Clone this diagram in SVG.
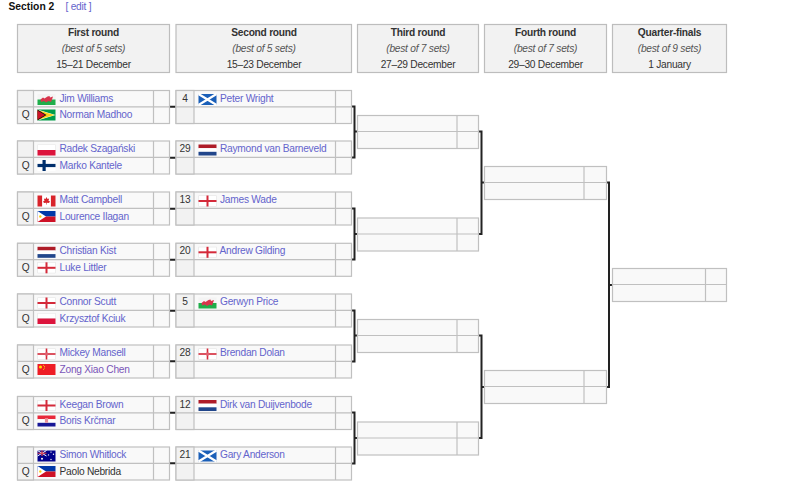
<svg xmlns="http://www.w3.org/2000/svg" width="800" height="489" viewBox="0 0 800 489">
<style>
text{font-family:"Liberation Sans",Arial,sans-serif;font-size:10.2px;letter-spacing:-.25px;fill:#333}
.h{text-anchor:middle}
.b{font-weight:bold}
.i{font-style:italic;fill:#555}
.c{text-anchor:middle}
.l{fill:#6464cc}
.v{fill:#7a55b8}
.box{fill:#f2f2f2;stroke:#bdbdbd;stroke-width:1.2}
.name{fill:#f9f9f9;stroke:#c0c0c0;stroke-width:1.2}
.seed{fill:#f2f2f2;stroke:#c0c0c0;stroke-width:1.2}
.sep{stroke:#c0c0c0;stroke-width:1.2;fill:none}
.con{fill:none;stroke:#222;stroke-width:2}
</style>
<defs>
<g id="f-wales"><rect width="18" height="5.5" fill="#f4f4f4"/><rect y="5.5" width="18" height="5.5" fill="#1fae4a"/><path d="M3 5.5L5.5 3.5L7 4.5L10 2.5L12 2L12.5 3.5L15.5 2.5L14.5 5.5L13.5 8L11 7L8.5 8.5L6.5 7L3.5 8Z" fill="#d8354c"/></g>
<g id="f-guyana"><rect width="18" height="11" fill="#009e49"/><path d="M0 0L18 5.5L0 11Z" fill="#fff"/><path d="M0 .6L17 5.5L0 10.4Z" fill="#fcd116"/><path d="M0 0L9 5.5L0 11Z" fill="#111"/><path d="M0 1L7.6 5.5L0 10Z" fill="#ce1126"/></g>
<g id="f-poland"><rect x=".25" y=".25" width="17.5" height="5.5" fill="#fff" stroke="#e4e4e4" stroke-width=".5"/><rect y="5.5" width="18" height="5.5" fill="#dc143c"/></g>
<g id="f-finland"><rect width="18" height="11" fill="#fff"/><rect x="5" width="3.2" height="11" fill="#002f6c"/><rect y="3.9" width="18" height="3.2" fill="#002f6c"/></g>
<g id="f-canada"><rect width="18" height="11" fill="#fff"/><rect width="4.6" height="11" fill="#d8232a"/><rect x="13.4" width="4.6" height="11" fill="#d8232a"/><path d="M9 1.5L10 3.4L11.6 3L11 5.6L12.4 5.4L11.6 7.4L9.3 7.2V9H8.7V7.2L6.4 7.4L5.6 5.4L7 5.6L6.4 3L8 3.4Z" fill="#d8232a"/></g>
<g id="f-ph"><rect width="18" height="5.5" fill="#0038a8"/><rect y="5.5" width="18" height="5.5" fill="#ce1126"/><path d="M0 0L8.5 5.5L0 11Z" fill="#fff"/><circle cx="2.8" cy="5.5" r="1.2" fill="#fcd116"/></g>
<g id="f-nl"><rect width="18" height="3.7" fill="#ae1c28"/><rect y="3.7" width="18" height="3.6" fill="#fff"/><rect y="7.3" width="18" height="3.7" fill="#21468b"/></g>
<g id="f-en"><rect x=".25" y=".25" width="17.5" height="10.5" fill="#fff" stroke="#e0e0e0" stroke-width=".5"/><rect x="8" width="2" height="11" fill="#d42a3a"/><rect y="4.5" width="18" height="2" fill="#d42a3a"/></g>
<g id="f-sc"><rect width="18" height="11" fill="#1a5fb8"/><path d="M0 0L18 11M18 0L0 11" stroke="#fff" stroke-width="2.2"/></g>
<g id="f-ni"><rect x=".25" y=".25" width="17.5" height="10.5" fill="#fff" stroke="#e0e0e0" stroke-width=".5"/><rect x="8.2" width="1.6" height="11" fill="#d42a3a"/><rect y="4.7" width="18" height="1.6" fill="#d42a3a"/><circle cx="9" cy="5.5" r="1.8" fill="#e06070"/></g>
<g id="f-cn"><rect width="18" height="11" fill="#ee1c25"/><circle cx="3" cy="3" r="1.5" fill="#ffde00"/><circle cx="6" cy="1.2" r=".5" fill="#ffde00"/><circle cx="7" cy="2.5" r=".5" fill="#ffde00"/><circle cx="7" cy="4" r=".5" fill="#ffde00"/><circle cx="6" cy="5.2" r=".5" fill="#ffde00"/></g>
<g id="f-hr"><rect width="18" height="3.7" fill="#e8283a"/><rect y="3.7" width="18" height="3.6" fill="#fff"/><rect y="7.3" width="18" height="3.7" fill="#171796"/><rect x="7.4" y="2.6" width="3.2" height="4.6" fill="#e89098"/></g>
<g id="f-au"><rect width="18" height="11" fill="#00008b"/><path d="M0 0L9 5.5M9 0L0 5.5" stroke="#fff" stroke-width="1"/><path d="M4.5 0V5.5M0 2.75H9" stroke="#e0404a" stroke-width="1.2"/><circle cx="4.5" cy="8.3" r="1" fill="#fff"/><circle cx="13.5" cy="1.6" r=".7" fill="#fff"/><circle cx="11" cy="4.4" r=".7" fill="#fff"/><circle cx="16" cy="3.8" r=".7" fill="#fff"/><circle cx="13.5" cy="9" r=".7" fill="#fff"/></g>
<g id="r1"><rect class="name" x="17.5" y="0" width="152" height="33"/><rect class="seed" x="17.5" y="0" width="16" height="33"/><path class="sep" d="M17.5 16.3H169.5M153.5 0V33"/></g>
<g id="r2"><rect class="name" x="176" y="0" width="175.5" height="33"/><rect class="seed" x="176" y="0" width="18" height="33"/><path class="sep" d="M176 16.3H351.5M335.5 0V33"/></g>
<g id="r3"><rect class="name" x="357.5" y="0" width="121" height="33"/><path class="sep" d="M357.5 16H478.5M457 0V33"/></g>
<g id="r4"><rect class="name" x="484.5" y="0" width="122" height="33"/><path class="sep" d="M484.5 16H606.5M584 0V33"/></g>
<g id="r5"><rect class="name" x="612.5" y="0" width="114" height="33"/><path class="sep" d="M612.5 16H726.5M705.5 0V33"/></g>
</defs>

<g id="title"><text x="8.5" y="9.5" class="b" style="font-size:10.3px;letter-spacing:0;fill:#111">Section 2</text><text x="65.5" y="9.5" class="l">[ edit ]</text></g>

<g id="headers">
<g id="h1"><rect class="box" x="17.5" y="24.5" width="152" height="48"/><text class="h b" x="93.5" y="36">First round</text><text class="h i" x="93.5" y="52">(best of 5 sets)</text><text class="h" x="93.5" y="68">15–21 December</text></g>
<g id="h2"><rect class="box" x="176" y="24.5" width="175.5" height="48"/><text class="h b" x="264" y="36">Second round</text><text class="h i" x="264" y="52">(best of 5 sets)</text><text class="h" x="264" y="68">15–23 December</text></g>
<g id="h3"><rect class="box" x="357.5" y="24.5" width="121" height="48"/><text class="h b" x="418" y="36">Third round</text><text class="h i" x="418" y="52">(best of 7 sets)</text><text class="h" x="418" y="68">27–29 December</text></g>
<g id="h4"><rect class="box" x="484.5" y="24.5" width="122" height="48"/><text class="h b" x="545.5" y="36">Fourth round</text><text class="h i" x="545.5" y="52">(best of 7 sets)</text><text class="h" x="545.5" y="68">29–30 December</text></g>
<g id="h5"><rect class="box" x="612.5" y="24.5" width="114" height="48"/><text class="h b" x="669.5" y="36">Quarter-finals</text><text class="h i" x="669.5" y="52">(best of 9 sets)</text><text class="h" x="669.5" y="68">1 January</text></g>
</g>

<g id="connectors">
<path class="con" d="M170 106.8H176M170 157.8H176M170 208.8H176M170 259.8H176M170 310.8H176M170 361.3H176M170 412.8H176M170 463.3H176"/>
<path class="con" d="M352 106.5H354.5V157.5H352M354.5 131.5H357.5"/>
<path class="con" d="M352 208.5H354.5V259.5H352M354.5 234H357.5"/>
<path class="con" d="M352 310.5H354.5V361.5H352M354.5 335.5H357.5"/>
<path class="con" d="M352 412.5H354.5V463.5H352M354.5 438H357.5"/>
<path class="con" d="M479 131.5H481.5V234H479M481.5 182.5H484.5"/>
<path class="con" d="M479 335.5H481.5V438H479M481.5 387H484.5"/>
<path class="con" d="M607 182.5H609V387H607M609 285H612.5"/>
</g>

<g id="m1-1" transform="translate(0,90.5)"><use href="#r1"/><use href="#f-wales" x="37.5" y="3.5"/><text x="59.5" y="11" class="l">Jim Williams</text><text class="c" x="25.5" y="27.5">Q</text><use href="#f-guyana" x="37.5" y="19"/><text x="59.5" y="27.5" class="l">Norman Madhoo</text></g>
<g id="m1-2" transform="translate(0,141)"><use href="#r1"/><use href="#f-poland" x="37.5" y="3.5"/><text x="59.5" y="11" class="l">Radek Szagański</text><text class="c" x="25.5" y="27.5">Q</text><use href="#f-finland" x="37.5" y="19"/><text x="59.5" y="27.5" class="l">Marko Kantele</text></g>
<g id="m1-3" transform="translate(0,192)"><use href="#r1"/><use href="#f-canada" x="37.5" y="3.5"/><text x="59.5" y="11" class="l">Matt Campbell</text><text class="c" x="25.5" y="27.5">Q</text><use href="#f-ph" x="37.5" y="19"/><text x="59.5" y="27.5" class="l">Lourence Ilagan</text></g>
<g id="m1-4" transform="translate(0,243.3)"><use href="#r1"/><use href="#f-nl" x="37.5" y="3.5"/><text x="59.5" y="11" class="l">Christian Kist</text><text class="c" x="25.5" y="27.5">Q</text><use href="#f-en" x="37.5" y="19"/><text x="59.5" y="27.5" class="l">Luke Littler</text></g>
<g id="m1-5" transform="translate(0,294)"><use href="#r1"/><use href="#f-en" x="37.5" y="3.5"/><text x="59.5" y="11" class="l">Connor Scutt</text><text class="c" x="25.5" y="27.5">Q</text><use href="#f-poland" x="37.5" y="19"/><text x="59.5" y="27.5" class="l">Krzysztof Kciuk</text></g>
<g id="m1-6" transform="translate(0,345)"><use href="#r1"/><use href="#f-ni" x="37.5" y="3.5"/><text x="59.5" y="11" class="l">Mickey Mansell</text><text class="c" x="25.5" y="27.5">Q</text><use href="#f-cn" x="37.5" y="19"/><text x="59.5" y="27.5" class="v">Zong Xiao Chen</text></g>
<g id="m1-7" transform="translate(0,396.5)"><use href="#r1"/><use href="#f-en" x="37.5" y="3.5"/><text x="59.5" y="11" class="l">Keegan Brown</text><text class="c" x="25.5" y="27.5">Q</text><use href="#f-hr" x="37.5" y="19"/><text x="59.5" y="27.5" class="l">Boris Krčmar</text></g>
<g id="m1-8" transform="translate(0,447)"><use href="#r1"/><use href="#f-au" x="37.5" y="3.5"/><text x="59.5" y="11" class="l">Simon Whitlock</text><text class="c" x="25.5" y="27.5">Q</text><use href="#f-ph" x="37.5" y="19"/><text x="59.5" y="27.5">Paolo Nebrida</text></g>

<g id="m2-1" transform="translate(0,90.5)"><use href="#r2"/><text class="c" x="185" y="11">4</text><use href="#f-sc" x="198.5" y="3.5"/><text x="220" y="11" class="l">Peter Wright</text></g>
<g id="m2-2" transform="translate(0,141)"><use href="#r2"/><text class="c" x="185" y="11">29</text><use href="#f-nl" x="198.5" y="3.5"/><text x="220" y="11" class="l">Raymond van Barneveld</text></g>
<g id="m2-3" transform="translate(0,192)"><use href="#r2"/><text class="c" x="185" y="11">13</text><use href="#f-en" x="198.5" y="3.5"/><text x="220" y="11" class="l">James Wade</text></g>
<g id="m2-4" transform="translate(0,243.3)"><use href="#r2"/><text class="c" x="185" y="11">20</text><use href="#f-en" x="198.5" y="3.5"/><text x="219.5" y="11" class="l">Andrew Gilding</text></g>
<g id="m2-5" transform="translate(0,294)"><use href="#r2"/><text class="c" x="185" y="11">5</text><use href="#f-wales" x="198.5" y="3.5"/><text x="220" y="11" class="l">Gerwyn Price</text></g>
<g id="m2-6" transform="translate(0,345)"><use href="#r2"/><text class="c" x="185" y="11">28</text><use href="#f-ni" x="198.5" y="3.5"/><text x="220" y="11" class="l">Brendan Dolan</text></g>
<g id="m2-7" transform="translate(0,396.5)"><use href="#r2"/><text class="c" x="185" y="11">12</text><use href="#f-nl" x="198.5" y="3.5"/><text x="220" y="11" class="l">Dirk van Duijvenbode</text></g>
<g id="m2-8" transform="translate(0,447)"><use href="#r2"/><text class="c" x="185" y="11">21</text><use href="#f-sc" x="198.5" y="3.5"/><text x="220" y="11" class="l">Gary Anderson</text></g>

<g id="m3-1" transform="translate(0,115.5)"><use href="#r3"/></g>
<g id="m3-2" transform="translate(0,218)"><use href="#r3"/></g>
<g id="m3-3" transform="translate(0,319.5)"><use href="#r3"/></g>
<g id="m3-4" transform="translate(0,422)"><use href="#r3"/></g>
<g id="m4-1" transform="translate(0,166.5)"><use href="#r4"/></g>
<g id="m4-2" transform="translate(0,370.5)"><use href="#r4"/></g>
<g id="m5-1" transform="translate(0,268.5)"><use href="#r5"/></g>
</svg>
